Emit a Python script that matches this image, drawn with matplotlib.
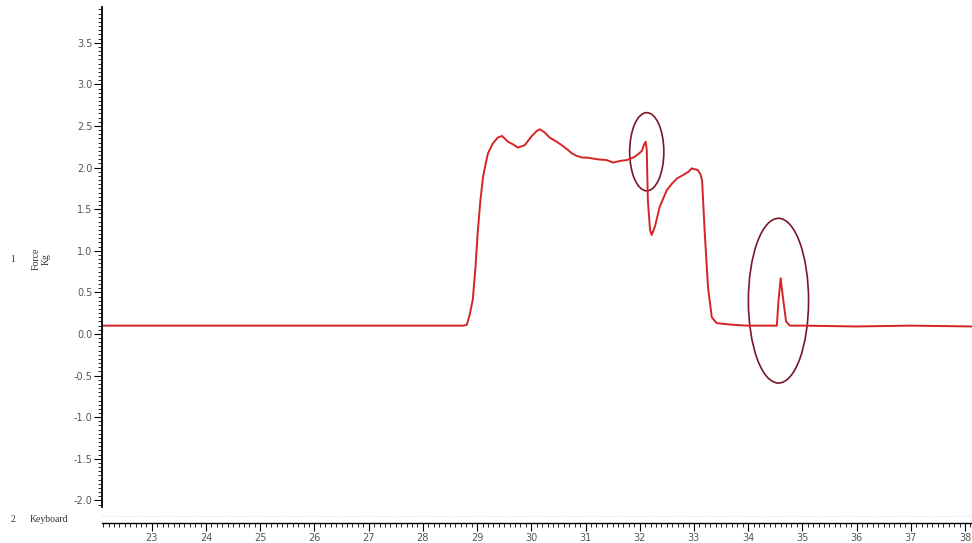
import matplotlib.pyplot as plt
from matplotlib.patches import Ellipse
from matplotlib.ticker import MultipleLocator

# Force trace (time in s, force in Kg)
time_s = [22.08, 24.0, 26.0, 28.0, 28.75, 28.81, 28.86, 28.92, 28.97, 29.01, 29.06, 29.11,
          29.16, 29.20, 29.29, 29.38, 29.46, 29.57, 29.66, 29.75, 29.88, 30.01, 30.10, 30.16,
          30.25, 30.34, 30.47, 30.56, 30.66, 30.75, 30.84, 30.94, 31.03, 31.21, 31.39, 31.51,
          31.64, 31.76, 31.88, 31.95, 32.04, 32.08, 32.11, 32.13, 32.15, 32.19, 32.22, 32.28,
          32.37, 32.50, 32.60, 32.69, 32.80, 32.90, 32.96, 33.07, 33.12, 33.15, 33.20, 33.26,
          33.33, 33.42, 33.72, 33.98, 34.30, 34.53, 34.56, 34.60, 34.64, 34.70, 34.77, 35.0,
          36.0, 37.0, 38.13]
force_kg = [0.10, 0.10, 0.10, 0.10, 0.10, 0.11, 0.22, 0.41, 0.80, 1.21, 1.60, 1.89,
            2.05, 2.17, 2.29, 2.36, 2.38, 2.31, 2.28, 2.24, 2.27, 2.38, 2.44, 2.46,
            2.42, 2.36, 2.31, 2.27, 2.22, 2.17, 2.14, 2.12, 2.12, 2.10, 2.09, 2.06,
            2.08, 2.09, 2.12, 2.15, 2.20, 2.28, 2.31, 2.21, 1.61, 1.25, 1.19, 1.29,
            1.53, 1.73, 1.81, 1.87, 1.91, 1.95, 1.99, 1.97, 1.92, 1.85, 1.21, 0.56,
            0.20, 0.13, 0.11, 0.10, 0.10, 0.10, 0.40, 0.67, 0.45, 0.15, 0.10, 0.10,
            0.09, 0.10, 0.09]

# highlighted events: centre (s, Kg), width (s), height (Kg)
ring_x = [32.13, 34.56]
ring_y = [2.19, 0.40]
ring_w = [0.63, 1.11]
ring_h = [0.94, 1.98]

y_ticks = [-2.0, -1.5, -1.0, -0.5, 0.0, 0.5, 1.0, 1.5, 2.0, 2.5, 3.0, 3.5]
x_ticks = list(range(23, 39))

fig = plt.figure(figsize=(9.72, 5.43), dpi=100)
ax = fig.add_axes([102 / 972, 36 / 543, 870 / 972, 500 / 543])
ax.plot(time_s, force_kg, color='#d62424', linewidth=1.4)

for cx, cy, w, h in zip(ring_x, ring_y, ring_w, ring_h):
    ax.add_patch(Ellipse((cx, cy), w, h, fill=False, edgecolor='#7a1726',
                         linewidth=1.2, clip_on=False))

ax.set_xlim(22.08, 38.13)
ax.set_ylim(-2.08, 3.93)
for side in ['top', 'right', 'bottom']:
    ax.spines[side].set_visible(False)
ax.spines['left'].set_linewidth(1.3)
ax.set_xticks([])
ax.set_yticks(y_ticks)
ax.set_yticklabels([f'{v:.1f}' for v in y_ticks])
ax.yaxis.set_minor_locator(MultipleLocator(0.05))
ax.tick_params(axis='y', which='major', length=6, width=0.8, labelsize=7,
               labelcolor='#555555', pad=1)
ax.tick_params(axis='y', which='minor', length=3, width=0.6)

# bottom time axis of the recorder
xax = fig.add_axes([102 / 972, 20 / 543, 870 / 972, 0.0001])
xax.set_xlim(22.08, 38.13)
xax.set_yticks([])
for side in ['top', 'right', 'left']:
    xax.spines[side].set_visible(False)
xax.spines['bottom'].set_linewidth(1.0)
xax.set_xticks(x_ticks)
xax.xaxis.set_minor_locator(MultipleLocator(0.1))
xax.tick_params(axis='x', which='major', length=6, width=0.8, labelsize=7,
                labelcolor='#555555', pad=1)
xax.tick_params(axis='x', which='minor', length=3, width=0.6)

# faint keyboard channel baseline
fig.add_artist(plt.Line2D([102 / 972, 1.0], [27 / 543, 27 / 543], color='#dddddd',
                          linewidth=0.8, linestyle=':'))

fig.text(13 / 972, 1 - 259 / 543, '1', fontsize=7, family='Liberation Serif',
         ha='center', va='center', color='#333333')
fig.text(36 / 972, 1 - 259 / 543, 'Force', fontsize=7, family='Liberation Serif',
         rotation=90, ha='center', va='center', color='#333333')
fig.text(46 / 972, 1 - 259 / 543, 'Kg', fontsize=7, family='Liberation Serif',
         rotation=90, ha='center', va='center', color='#333333')
fig.text(13 / 972, 1 - 519 / 543, '2', fontsize=7, family='Liberation Serif',
         ha='center', va='center', color='#333333')
fig.text(30 / 972, 1 - 519 / 543, 'Keyboard', fontsize=7, family='Liberation Serif',
         ha='left', va='center', color='#333333')

fig.savefig('out.png', dpi=100)
